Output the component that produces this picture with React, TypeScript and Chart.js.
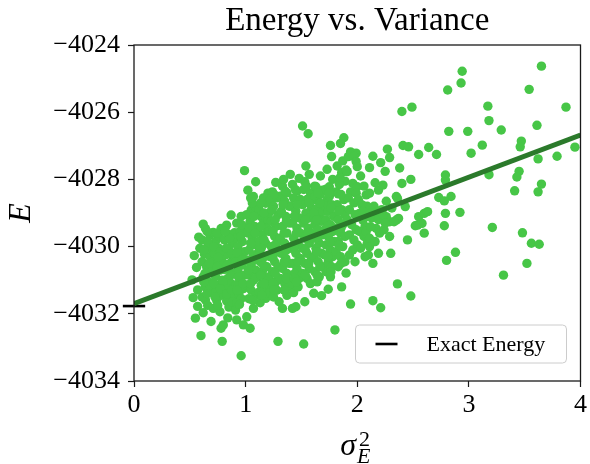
import React, { useEffect, useRef } from 'react';
import { Chart, registerables } from 'chart.js';

Chart.register(...registerables);

// ---- data ----
const titleText = 'Energy vs. Variance';
const xTickValues = [0, 1, 2, 3, 4];
const yTickValues = [-4034, -4032, -4030, -4028, -4026, -4024];

const exactEnergy = -4031.77;
const exactSpan = [-0.1, 0.1];
const fitX = [0, 4];
const fitY = [-4031.7, -4026.68];

type P = [number, number];

const bandLeft: P[] = [
  [0.52,-4030.99],[0.54,-4030.27],[0.57,-4031.29],[0.55,-4032.13],[0.56,-4030.62],[0.58,-4029.72],[0.53,-4031.52],[0.59,-4030.05],[0.57,-4031.78],[0.60,-4032.65],
  [0.62,-4029.33],[0.64,-4029.46],[0.61,-4029.8],[0.66,-4030.0],[0.63,-4030.22],[0.68,-4030.3],[0.61,-4030.45],[0.65,-4030.6],[0.69,-4030.75],[0.62,-4030.9],
  [0.67,-4031.05],[0.64,-4031.2],[0.69,-4031.35],[0.61,-4031.5],[0.64,-4031.59],[0.66,-4031.75],[0.62,-4031.97],[0.69,-4032.23],[0.68,-4029.65],[0.70,-4030.1],
  [0.71,-4029.58],[0.78,-4029.46],[0.73,-4029.85],[0.76,-4030.05],[0.72,-4030.2],[0.79,-4030.3],[0.74,-4030.45],[0.71,-4030.6],[0.77,-4030.7],[0.73,-4030.88],
  [0.79,-4031.0],[0.75,-4031.15],[0.72,-4031.3],[0.78,-4031.45],[0.74,-4031.6],[0.71,-4031.84],[0.77,-4031.94],[0.78,-4032.43],[0.79,-4032.82],[0.80,-4032.33],
  [0.76,-4029.7],[0.80,-4030.5],[0.75,-4031.75],
  [0.83,-4029.36],[0.87,-4029.06],[0.84,-4029.62],[0.81,-4029.8],[0.88,-4029.9],[0.85,-4030.08],[0.82,-4030.25],[0.89,-4030.35],[0.86,-4030.5],[0.81,-4030.68],
  [0.88,-4030.8],[0.84,-4030.95],[0.87,-4031.1],[0.82,-4031.22],[0.86,-4031.38],[0.89,-4031.5],[0.83,-4031.62],[0.85,-4031.8],[0.84,-4032.12],[0.90,-4029.59],
  [0.80,-4031.05],[0.88,-4031.65],
  [0.98,-4029.41],[0.92,-4029.3],[0.95,-4029.55],[0.91,-4029.75],[0.97,-4029.85],[0.93,-4030.0],[0.99,-4030.15],[0.94,-4030.3],[0.91,-4030.45],[0.97,-4030.55],
  [0.93,-4030.72],[0.99,-4030.85],[0.95,-4031.0],[0.91,-4031.15],[0.98,-4031.25],[0.94,-4031.4],[0.96,-4031.55],[0.92,-4031.69],[0.91,-4031.89],[0.92,-4032.18],
  [0.98,-4032.33],[0.96,-4033.25],[0.99,-4027.74],[0.96,-4029.1],
];

const bandMid: P[] = [
  [1.02,-4028.32],[1.07,-4028.51],[1.09,-4028.07],[1.05,-4028.91],[1.09,-4028.83],[1.01,-4029.05],[1.04,-4029.25],[1.08,-4029.4],[1.02,-4029.6],[1.06,-4029.75],
  [1.09,-4029.95],[1.03,-4030.1],[1.07,-4030.25],[1.01,-4030.4],[1.05,-4030.55],[1.09,-4030.7],[1.03,-4030.85],[1.07,-4031.0],[1.01,-4031.15],[1.05,-4031.3],
  [1.09,-4031.45],[1.03,-4031.55],[1.07,-4031.84],[1.01,-4032.09],[1.04,-4032.43],[1.06,-4028.7],
  [1.14,-4029.11],[1.18,-4028.71],[1.20,-4028.41],[1.12,-4028.9],[1.16,-4029.3],[1.11,-4029.5],[1.19,-4029.45],[1.15,-4029.65],[1.12,-4029.85],[1.18,-4029.9],
  [1.14,-4030.05],[1.11,-4030.2],[1.17,-4030.3],[1.13,-4030.45],[1.19,-4030.6],[1.15,-4030.75],[1.11,-4030.9],[1.18,-4031.0],[1.14,-4031.15],[1.12,-4031.35],
  [1.18,-4031.54],[1.13,-4031.67],[1.16,-4028.55],[1.20,-4029.2],[1.16,-4031.3],
  [1.24,-4028.37],[1.27,-4028.09],[1.22,-4028.6],[1.28,-4028.55],[1.25,-4028.8],[1.21,-4029.0],[1.29,-4029.05],[1.23,-4029.25],[1.27,-4029.4],[1.21,-4029.55],
  [1.26,-4029.7],[1.29,-4029.85],[1.23,-4030.0],[1.28,-4030.15],[1.22,-4030.3],[1.26,-4030.45],[1.29,-4030.6],[1.24,-4030.75],[1.21,-4030.9],[1.27,-4031.05],
  [1.23,-4031.2],[1.21,-4031.39],[1.28,-4031.3],[1.30,-4031.64],[1.29,-4032.82],[1.25,-4031.5],
  [1.40,-4027.85],[1.33,-4028.2],[1.37,-4028.4],[1.31,-4028.5],[1.35,-4028.65],[1.39,-4028.8],[1.32,-4028.95],[1.36,-4029.1],[1.39,-4029.3],[1.33,-4029.4],
  [1.37,-4029.6],[1.31,-4029.75],[1.35,-4029.9],[1.39,-4030.05],[1.32,-4030.2],[1.36,-4030.35],[1.39,-4030.5],[1.33,-4030.65],[1.37,-4030.8],[1.31,-4030.95],
  [1.35,-4031.1],[1.39,-4031.2],[1.33,-4031.84],[1.37,-4031.45],[1.34,-4028.0],
  [1.48,-4027.97],[1.42,-4028.15],[1.46,-4028.35],[1.43,-4028.55],[1.49,-4028.6],[1.41,-4028.8],[1.45,-4028.95],[1.48,-4029.15],[1.42,-4029.3],[1.46,-4029.45],
  [1.49,-4029.6],[1.43,-4029.75],[1.47,-4029.9],[1.41,-4030.05],[1.45,-4030.2],[1.49,-4030.35],[1.42,-4030.5],[1.46,-4030.65],[1.44,-4030.8],[1.48,-4030.95],
  [1.42,-4031.1],[1.43,-4031.37],[1.42,-4031.84],[1.45,-4031.79],[1.47,-4031.2],
];

const bandRight: P[] = [
  [1.51,-4026.41],[1.56,-4026.64],[1.53,-4028.07],[1.57,-4027.85],[1.52,-4028.3],[1.58,-4028.4],[1.55,-4028.6],[1.51,-4028.75],[1.59,-4028.85],[1.54,-4029.0],
  [1.57,-4029.15],[1.52,-4029.3],[1.56,-4029.45],[1.59,-4029.6],[1.53,-4029.75],[1.57,-4029.9],[1.51,-4030.05],[1.55,-4030.2],[1.59,-4030.35],[1.53,-4030.5],
  [1.57,-4030.65],[1.51,-4030.8],[1.55,-4030.95],[1.58,-4031.1],[1.53,-4031.64],[1.52,-4032.9],[1.54,-4027.6],
  [1.62,-4028.20],[1.63,-4028.61],[1.66,-4029.11],[1.63,-4028.22],[1.62,-4028.51],[1.69,-4028.32],[1.67,-4028.45],[1.65,-4028.85],[1.69,-4028.95],[1.61,-4029.0],
  [1.68,-4029.25],[1.62,-4029.35],[1.65,-4029.5],[1.69,-4029.65],[1.61,-4029.75],[1.66,-4029.9],[1.63,-4030.05],[1.68,-4030.2],[1.61,-4030.3],[1.65,-4030.45],
  [1.69,-4030.6],[1.62,-4030.75],[1.66,-4030.9],[1.61,-4031.39],[1.68,-4031.46],[1.64,-4031.05],[1.67,-4027.9],
  [1.76,-4026.99],[1.77,-4027.32],[1.72,-4028.29],[1.73,-4028.61],[1.75,-4028.22],[1.75,-4028.51],[1.78,-4028.0],[1.71,-4028.8],[1.77,-4028.75],[1.74,-4028.95],
  [1.79,-4029.1],[1.72,-4029.2],[1.76,-4029.35],[1.71,-4029.5],[1.78,-4029.55],[1.74,-4029.7],[1.79,-4029.85],[1.72,-4029.95],[1.76,-4030.1],[1.71,-4030.25],
  [1.78,-4030.3],[1.74,-4030.45],[1.77,-4030.6],[1.72,-4030.75],[1.76,-4030.9],[1.74,-4031.27],[1.80,-4032.48],[1.73,-4027.7],
  [1.88,-4026.76],[1.85,-4026.93],[1.81,-4028.37],[1.83,-4028.43],[1.87,-4027.45],[1.82,-4027.6],[1.86,-4027.8],[1.89,-4028.05],[1.84,-4028.15],[1.88,-4028.6],
  [1.82,-4028.75],[1.86,-4028.9],[1.89,-4029.05],[1.83,-4029.2],[1.87,-4029.35],[1.81,-4029.45],[1.85,-4029.6],[1.89,-4029.7],[1.83,-4029.85],[1.87,-4030.0],
  [1.81,-4030.15],[1.85,-4030.3],[1.89,-4030.45],[1.83,-4030.6],[1.90,-4030.79],[1.86,-4031.2],
  [1.92,-4027.32],[1.94,-4027.18],[1.99,-4027.22],[1.90,-4027.72],[1.91,-4027.77],[1.97,-4027.32],[1.99,-4027.47],[2.00,-4027.62],[1.96,-4028.12],[2.00,-4028.22],
  [1.94,-4028.37],[1.99,-4028.41],[1.92,-4028.55],[1.97,-4028.7],[1.93,-4028.9],[1.98,-4029.05],[1.91,-4029.2],[1.95,-4029.35],[1.99,-4029.5],[1.93,-4029.65],
  [1.97,-4029.8],[2.00,-4029.95],[1.93,-4030.25],[1.96,-4030.1],[1.94,-4031.71],[1.98,-4030.45],
];

const coreFill: P[] = [
  [0.655,-4029.55],[0.625,-4030.1],[0.675,-4030.5],[0.635,-4030.8],[0.655,-4031.4],[0.68,-4031.15],[0.625,-4031.05],[0.66,-4029.85],
  [0.745,-4029.6],[0.715,-4030.0],[0.775,-4030.15],[0.745,-4030.62],[0.715,-4031.1],[0.775,-4031.25],[0.755,-4030.32],[0.725,-4031.5],
  [0.855,-4029.75],[0.825,-4030.05],[0.875,-4030.2],[0.835,-4030.55],[0.865,-4030.85],[0.83,-4031.4],[0.875,-4031.3],[0.815,-4029.55],
  [0.955,-4029.7],[0.925,-4030.18],[0.965,-4030.4],[0.935,-4030.9],[0.975,-4031.1],[0.945,-4031.72],[0.965,-4029.35],[0.925,-4031.3],
  [1.045,-4028.55],[1.075,-4029.1],[1.035,-4029.45],[1.085,-4029.6],[1.045,-4029.9],[1.075,-4030.4],[1.025,-4030.7],[1.085,-4030.95],[1.045,-4031.1],[1.065,-4031.6],
  [1.135,-4028.7],[1.165,-4029.0],[1.135,-4029.4],[1.165,-4029.8],[1.125,-4030.1],[1.16,-4030.55],[1.135,-4030.85],[1.165,-4031.1],[1.145,-4031.45],
  [1.255,-4028.45],[1.235,-4028.9],[1.265,-4029.2],[1.245,-4029.55],[1.265,-4029.95],[1.245,-4030.3],[1.265,-4030.8],[1.245,-4031.1],[1.255,-4031.3],
  [1.355,-4028.35],[1.335,-4028.75],[1.365,-4029.25],[1.345,-4029.6],[1.365,-4030.1],[1.345,-4030.45],[1.365,-4030.95],[1.345,-4031.3],
  [1.445,-4028.3],[1.465,-4028.75],[1.435,-4029.1],[1.455,-4029.6],[1.435,-4030.0],[1.465,-4030.45],[1.435,-4030.95],[1.455,-4031.05],
  [1.545,-4028.2],[1.565,-4028.7],[1.535,-4029.2],[1.555,-4029.6],[1.535,-4030.1],[1.565,-4030.5],[1.535,-4030.85],
  [1.645,-4028.4],[1.665,-4028.7],[1.635,-4029.2],[1.655,-4029.7],[1.635,-4030.15],[1.665,-4030.6],[1.64,-4030.85],
  [1.745,-4028.4],[1.765,-4028.85],[1.735,-4029.4],[1.755,-4029.85],[1.735,-4030.3],[1.765,-4030.75],
  [1.845,-4027.95],[1.855,-4028.45],[1.835,-4028.95],[1.855,-4029.45],[1.835,-4029.95],[1.855,-4030.5],
];

const bandTail: P[] = [
  [2.05,-4029.21],[2.08,-4029.11],[2.02,-4029.01],[2.08,-4028.46],[2.03,-4027.9],[2.06,-4028.2],[2.01,-4028.6],[2.09,-4028.8],[2.04,-4028.75],[2.07,-4029.4],
  [2.02,-4029.55],[2.06,-4029.7],[2.09,-4029.9],[2.03,-4030.05],[2.07,-4030.3],[2.05,-4028.95],[2.08,-4029.55],[2.10,-4030.25],
  [2.14,-4027.31],[2.11,-4027.65],[2.16,-4028.10],[2.19,-4028.32],[2.11,-4028.41],[2.11,-4029.75],[2.17,-4029.46],[2.12,-4029.41],[2.14,-4030.50],[2.11,-4030.0],
  [2.15,-4028.8],[2.18,-4029.0],[2.13,-4029.15],[2.19,-4030.2],[2.14,-4031.61],[2.12,-4029.0],[2.19,-4029.2],[2.20,-4029.6],[2.16,-4029.85],
  [2.27,-4027.10],[2.29,-4027.35],[2.25,-4027.76],[2.38,-4027.66],[2.23,-4028.17],[2.35,-4028.51],[2.26,-4028.65],[2.36,-4028.56],[2.35,-4029.21],[2.37,-4029.16],
  [2.29,-4029.26],[2.26,-4029.11],[2.29,-4029.70],[2.33,-4029.26],[2.30,-4030.20],[2.36,-4031.11],[2.21,-4031.82],[2.22,-4028.9],[2.31,-4028.85],[2.24,-4029.5],
  [2.21,-4027.5],[2.23,-4029.05],[2.25,-4029.3],
  [2.40,-4025.98],[2.49,-4025.85],[2.64,-4027.05],[2.55,-4027.26],[2.41,-4026.99],[2.46,-4027.03],[2.48,-4028.0],[2.40,-4028.12],[2.43,-4028.81],[2.55,-4029.11],
  [2.60,-4029.01],[2.63,-4028.96],[2.54,-4029.36],[2.60,-4029.60],[2.45,-4029.80],[2.58,-4029.31],[2.52,-4029.38],[2.48,-4031.47],
  [2.71,-4027.26],[2.73,-4028.54],[2.84,-4028.51],[2.78,-4028.64],[2.79,-4027.87],[2.79,-4028.02],[2.78,-4029.38],[2.79,-4029.01],[2.92,-4028.98],[2.88,-4030.17],
  [2.80,-4030.41],
];

const outliers: P[] = [
  [3.65,-4024.63],[2.94,-4024.78],[2.93,-4025.13],[2.81,-4025.34],[3.54,-4025.32],[3.17,-4025.82],[3.87,-4025.85],[3.18,-4026.25],[3.61,-4026.39],[2.82,-4026.57],
  [2.99,-4026.57],[3.29,-4026.53],[3.47,-4026.86],[3.46,-4027.03],[3.12,-4026.98],[3.02,-4027.22],[3.79,-4027.31],[3.95,-4027.04],[3.62,-4027.39],[3.18,-4027.86],
  [3.45,-4027.76],[3.43,-4027.93],[3.65,-4028.14],[3.62,-4028.37],[3.41,-4028.34],[3.21,-4029.43],[3.48,-4029.59],[3.56,-4029.90],[3.63,-4029.93],[3.52,-4030.50],
  [3.31,-4030.85],
];

const FONT = "'Liberation Serif', 'DejaVu Serif', serif";
const POINT_COLOR = '#47c647';
const FIT_COLOR = '#2b7a2b';

const minusFmt = (v: number) => (v < 0 ? '\u2212' + Math.abs(v) : String(v));

const decorPlugin = {
  id: 'decor',
  afterDatasetsDraw(chart: any) {
    const { ctx, chartArea: ca } = chart;
    ctx.save();
    ctx.strokeStyle = '#1a1a1a';
    ctx.lineWidth = 1.3;
    ctx.strokeRect(ca.left, ca.top, ca.right - ca.left, ca.bottom - ca.top);
    ctx.restore();
  },
  afterDraw(chart: any) {
    const { ctx, chartArea: ca } = chart;
    const cx = (ca.left + ca.right) / 2;
    const cy = (ca.top + ca.bottom) / 2;
    ctx.save();
    ctx.fillStyle = '#000';
    // title
    ctx.font = `33px ${FONT}`;
    ctx.textAlign = 'center';
    ctx.textBaseline = 'alphabetic';
    ctx.fillText(titleText, cx, ca.top - 15);
    // y label
    ctx.save();
    ctx.translate(22, cy);
    ctx.rotate(-Math.PI / 2);
    ctx.font = `italic 32px ${FONT}`;
    ctx.textAlign = 'center';
    ctx.textBaseline = 'middle';
    ctx.fillText('E', 0, 0);
    ctx.restore();
    // x label sigma_E^2
    ctx.textAlign = 'left';
    ctx.textBaseline = 'alphabetic';
    ctx.font = `italic 32px ${FONT}`;
    const sx = cx - 17;
    ctx.fillText('\u03c3', sx, 455);
    const sw = ctx.measureText('\u03c3').width;
    ctx.font = `22px ${FONT}`;
    ctx.fillText('2', sx + sw + 3, 446);
    ctx.font = `italic 22px ${FONT}`;
    ctx.fillText('E', sx + sw + 1, 463);

    // legend
    const ds = chart.data.datasets.find((d: any) => d.showInLegend);
    const w = 211, h = 38;
    const x0 = ca.right - 14 - w;
    const y0 = ca.bottom - 18 - h;
    ctx.beginPath();
    const r = 4;
    ctx.moveTo(x0 + r, y0);
    ctx.lineTo(x0 + w - r, y0);
    ctx.quadraticCurveTo(x0 + w, y0, x0 + w, y0 + r);
    ctx.lineTo(x0 + w, y0 + h - r);
    ctx.quadraticCurveTo(x0 + w, y0 + h, x0 + w - r, y0 + h);
    ctx.lineTo(x0 + r, y0 + h);
    ctx.quadraticCurveTo(x0, y0 + h, x0, y0 + h - r);
    ctx.lineTo(x0, y0 + r);
    ctx.quadraticCurveTo(x0, y0, x0 + r, y0);
    ctx.closePath();
    ctx.fillStyle = 'rgba(255,255,255,0.8)';
    ctx.fill();
    ctx.strokeStyle = '#cccccc';
    ctx.lineWidth = 1;
    ctx.stroke();
    ctx.beginPath();
    ctx.moveTo(x0 + 20, y0 + h / 2);
    ctx.lineTo(x0 + 42, y0 + h / 2);
    ctx.strokeStyle = ds ? ds.borderColor : '#000';
    ctx.lineWidth = 2.6;
    ctx.stroke();
    ctx.fillStyle = '#000';
    ctx.font = `22px ${FONT}`;
    ctx.textBaseline = 'middle';
    ctx.fillText(ds ? ds.label : '', x0 + 71, y0 + h / 2 + 1);
    ctx.restore();
  },
};

export default function App() {
  const ref = useRef<HTMLCanvasElement>(null);
  useEffect(() => {
    document.body.style.margin = '0';
    const allPoints = [...bandLeft, ...bandMid, ...bandRight, ...coreFill, ...bandTail, ...outliers].map(([x, y]) => ({ x, y }));
    const chart = new Chart(ref.current!, {
      type: 'scatter',
      data: {
        datasets: [
          {
            type: 'line',
            label: 'fit',
            data: fitX.map((x, i) => ({ x, y: fitY[i] })),
            borderColor: FIT_COLOR,
            borderWidth: 5,
            pointRadius: 0,
            order: 0,
          } as any,
          {
            type: 'line',
            label: 'Exact Energy',
            showInLegend: true,
            data: exactSpan.map((x) => ({ x, y: exactEnergy })),
            borderColor: '#000',
            borderWidth: 2.6,
            pointRadius: 0,
            clip: false,
            order: 0,
          } as any,
          {
            label: 'samples',
            data: allPoints,
            backgroundColor: POINT_COLOR,
            borderWidth: 0,
            pointRadius: 4.7,
            order: 1,
          },
        ],
      },
      options: {
        responsive: false,
        animation: false,
        events: [],
        layout: { padding: { left: 0, right: 8, top: 45, bottom: 0 } },
        plugins: {
          legend: { display: false },
          tooltip: { enabled: false },
          title: { display: false },
        },
        scales: {
          x: {
            type: 'linear',
            min: 0,
            max: 4,
            afterFit: (s: any) => { s.height = 83; },
            afterBuildTicks: (s: any) => { s.ticks = xTickValues.map((v) => ({ value: v })); },
            ticks: {
              color: '#000',
              font: { family: FONT, size: 26 },
              padding: 3,
              callback: (v: any) => minusFmt(Number(v)),
            },
            grid: { display: true, drawOnChartArea: false, drawTicks: true, tickLength: 6, color: '#1a1a1a', tickWidth: 1.2 },
            border: { display: false },
          },
          y: {
            type: 'linear',
            min: -4034,
            max: -4024,
            afterFit: (s: any) => { s.width = 134; },
            afterBuildTicks: (s: any) => { s.ticks = yTickValues.map((v) => ({ value: v })); },
            ticks: {
              color: '#000',
              font: { family: FONT, size: 26 },
              padding: 8,
              callback: (v: any) => minusFmt(Number(v)),
            },
            grid: { display: true, drawOnChartArea: false, drawTicks: true, tickLength: 6, color: '#1a1a1a', tickWidth: 1.2 },
            border: { display: false },
          },
        },
      },
      plugins: [decorPlugin],
    });
    return () => chart.destroy();
  }, []);
  return (
    <div style={{ width: 590, height: 464 }}>
      <canvas ref={ref} width={590} height={464} style={{ display: 'block' }} />
    </div>
  );
}
